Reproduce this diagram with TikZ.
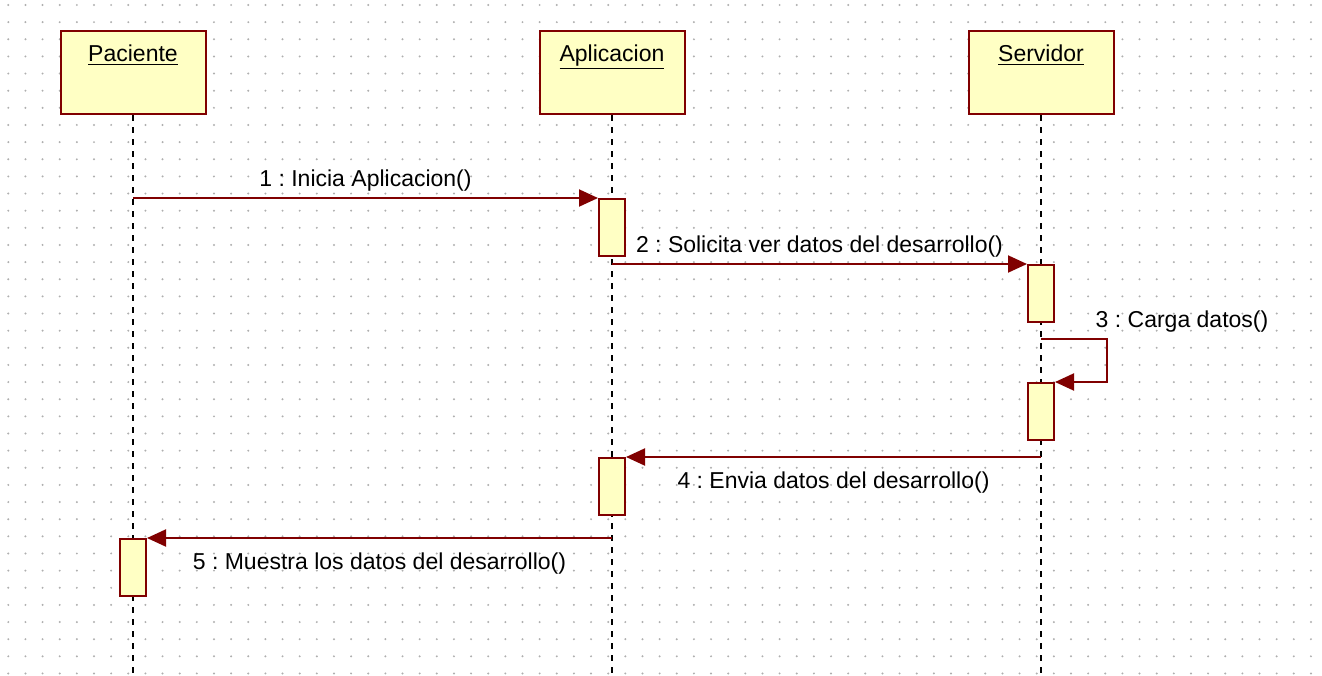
\documentclass[tikz,border=0pt]{standalone}
\usepackage{fontspec}
\setmainfont{Liberation Sans}
\usepackage{tikz}
\usetikzlibrary{arrows.meta,positioning,calc}
\definecolor{umlred}{RGB}{128,0,0}
\definecolor{umlfill}{RGB}{255,255,196}
\definecolor{griddot}{RGB}{175,175,175}
\frenchspacing

\begin{document}
\begin{tikzpicture}[x=0.5pt, y=-0.5pt,
  head/.style={draw=umlred, fill=umlfill, line width=1pt, minimum width=72.5pt,
               inner sep=0pt, text height=15pt, text depth=26.5pt,
               font=\fontsize{11.5}{13}\selectfont},
  act/.style={draw=umlred, fill=umlfill, line width=1pt, minimum width=13pt,
              minimum height=28.5pt, inner sep=0pt, anchor=north},
  life/.style={line width=0.8pt, dash pattern=on 3pt off 3pt},
  msg/.style={draw=umlred, line width=1pt, -{Triangle[length=9.5pt,width=8.5pt]}},
  lbl/.style={font=\fontsize{11.5}{13}\selectfont, inner sep=0pt,
              text height=8.5pt, text depth=2.5pt}]
\useasboundingbox (0,0) rectangle (1322,675);
\fill[white] (0,0) rectangle (1322,675);
\foreach \i in {0,...,76}
  \foreach \j in {0,...,39}
    \fill[griddot] ({8.3+17.14*\i},{5+17.14*\j}) circle (0.55pt);

\node[head, anchor=north] (pac) at (133,30) {\underline{Paciente}};
\node[head, right=166pt of pac] (apl) {\underline{Aplicacion}};
\node[head, right=141pt of apl] (srv) {\underline{Servidor}};

\draw[life] (pac.south) -- (pac |- 0,675);
\draw[life] (apl.south) -- (apl |- 0,675);
\draw[life] (srv.south) -- (srv |- 0,675);

\node[act] (a1) at (apl |- 0,198) {};
\node[act] (s1) at (srv |- 0,264) {};
\node[act] (s2) at (srv |- 0,382) {};
\node[act] (a2) at (apl |- 0,457) {};
\node[act] (p1) at (pac |- 0,538) {};
\coordinate (c3) at (srv |- 0,339);

\draw[msg] (pac |- a1.north) -- node[lbl, above=3pt] (l1) {1 : Inicia Aplicacion()} (a1.north west);
\draw[msg] (apl |- s1.north) -- node[lbl, above=3pt] (l2) {2 : Solicita ver datos del desarrollo()} (s1.north west);
\draw[msg] (c3) -- ++(66,0) node[lbl, above=3pt, xshift=37.5pt] (l3) {3 : Carga datos()} |- (s2.north east);
\draw[msg] (srv |- a2.north) -- node[lbl, below=6.5pt] (l4) {4 : Envia datos del desarrollo()} (a2.north east);
\draw[msg] (apl |- p1.north) -- node[lbl, below=6.5pt] (l5) {5 : Muestra los datos del desarrollo()} (p1.north east);
\end{tikzpicture}
\end{document}
